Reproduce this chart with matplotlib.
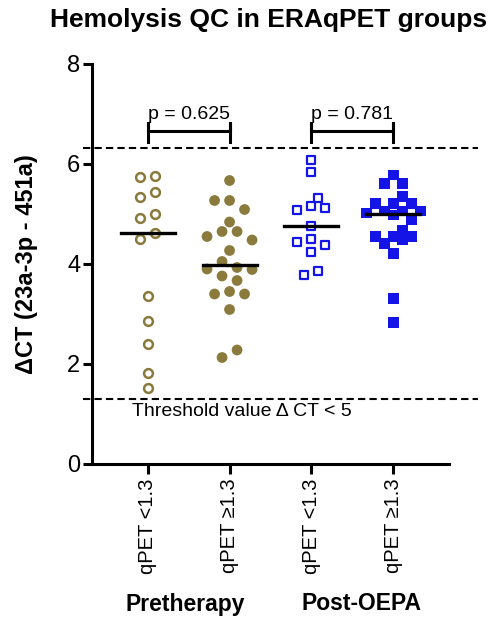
import numpy as np
import matplotlib
matplotlib.use("Agg")
from matplotlib import pyplot as plt

plt.rcParams['font.family'] = ['Liberation Sans', 'DejaVu Sans']

# values
categories = ["qPET <1.3", "qPET \u22651.3", "qPET <1.3", "qPET \u22651.3"]
groups = ["Pretherapy", "Post-OEPA"]
pre_low = [5.76, 5.75, 5.45, 5.35, 5.01, 4.93, 4.63, 4.51, 3.37, 2.86, 2.40, 1.83, 1.53]
pre_high = [5.67, 5.27, 5.27, 5.09, 4.84, 4.65, 4.65, 4.55, 4.48, 4.27, 4.05,
            3.93, 3.90, 3.89, 3.76, 3.67, 3.45, 3.40, 3.40, 3.09, 2.28, 2.13]
post_low = [6.08, 5.85, 5.33, 5.17, 5.11, 5.08, 4.77, 4.50, 4.45, 4.38, 4.25, 3.87, 3.78]
post_high = [5.78, 5.61, 5.61, 5.35, 5.21, 5.21, 5.21, 5.06, 5.06, 5.06, 5.02,
             4.98, 4.88, 4.68, 4.55, 4.55, 4.55, 4.48, 4.41, 4.21, 3.31, 2.83]
p_values = ["p = 0.625", "p = 0.781"]
upper_limit = 6.32
lower_limit = 1.3

olive = "#8a7a3c"
blue = "#1414e6"

fig = plt.figure(figsize=(4.95, 6.21), dpi=100)
ax = fig.add_axes([92 / 495, 157 / 621, 357 / 495, 400 / 621])
ax.set_xlim(-0.68, 3.68)
ax.set_ylim(0, 8)

# pixels per data unit, used for the swarm layout
xpx = 357 / 4.36
ypx = 400 / 8


def swarm(vals, d=12.0, step=7.5):
    ys = np.asarray(vals) * ypx
    order = np.argsort(-ys)
    offs = np.zeros(len(ys))
    placed = []
    cands = [0.0] + [s * k * step for k in range(1, 12) for s in (-1, 1)]
    for i in order:
        for c in cands:
            if all(np.hypot(c - offs[j], ys[i] - ys[j]) >= d for j in placed):
                break
        offs[i] = c
        placed.append(i)
    # center each chain of touching points
    srt = list(order)
    cluster = [srt[0]]
    clusters = []
    for a, b in zip(srt[:-1], srt[1:]):
        if ys[a] - ys[b] < d:
            cluster.append(b)
        else:
            clusters.append(cluster)
            cluster = [b]
    clusters.append(cluster)
    for cl in clusters:
        shift = (offs[cl].max() + offs[cl].min()) / 2
        offs[cl] -= shift
    return offs / xpx


series = [pre_low, pre_high, post_low, post_high]
spacing = [(12.0, 7.5), (12.0, 7.5), (10.5, 7.0), (9.5, 9.0)]
styles = [
    dict(marker="o", s=40, facecolors="white", edgecolors=olive, linewidths=1.8),
    dict(marker="o", s=60, color=olive, edgecolors="none"),
    dict(marker="s", s=38, facecolors="white", edgecolors=blue, linewidths=1.6),
    dict(marker="s", s=60, color=blue, edgecolors="none"),
]
for i, vals in enumerate(series):
    xs = i + swarm(vals, *spacing[i])
    ax.scatter(xs, vals, zorder=3, clip_on=False, **styles[i])
    m = np.median(vals)
    ax.plot([i - 0.33, i + 0.33], [m, m], color="black", lw=2.4, zorder=4)

# threshold lines
for yv in (upper_limit, lower_limit):
    ax.plot([-0.79, 4.04], [yv, yv], color="black", lw=1.5,
            ls=(0, (3.5, 2)), clip_on=False, zorder=2)
ax.text(-0.19, 1.06, "Threshold value \u0394 CT < 5", fontsize=14, va="center", ha="left")

# p-value brackets
for k, (a, b) in enumerate([(0, 1), (2, 3)]):
    ax.plot([a, a, a, b, b, b], [6.45, 6.85, 6.67, 6.67, 6.85, 6.45],
            color="black", lw=2.2, solid_joinstyle="miter")
    ax.text((a + b) / 2, 6.82, p_values[k], fontsize=14, ha="center", va="bottom")

ax.spines["top"].set_visible(False)
ax.spines["right"].set_visible(False)
ax.spines["left"].set_linewidth(2.2)
ax.spines["bottom"].set_linewidth(2.2)

ax.set_yticks([0, 2, 4, 6, 8])
ax.tick_params(axis="y", length=6.5, width=2.2, labelsize=17, pad=2)
ax.set_xticks(range(4))
ax.set_xticklabels(categories, rotation=90, fontsize=14.5)
ax.tick_params(axis="x", length=7.5, width=2.2, pad=3)

ax.set_ylabel("\u0394CT (23a-3p - 451a)", fontsize=17, fontweight="bold")
ax.yaxis.set_label_coords(-0.15, 0.5)

trans = ax.get_xaxis_transform()
ax.text(0.46, -140 / 400, groups[0], transform=trans, fontsize=16.5,
        fontweight="bold", ha="center", va="center")
ax.text(2.61, -140 / 400, groups[1], transform=trans, fontsize=16.5,
        fontweight="bold", ha="center", va="center")

fig.text(269 / 495, 1 - 20 / 621, "Hemolysis QC in ERAqPET groups",
         fontsize=19, fontweight="bold", ha="center", va="center")

fig.savefig("out.png", dpi=100)
